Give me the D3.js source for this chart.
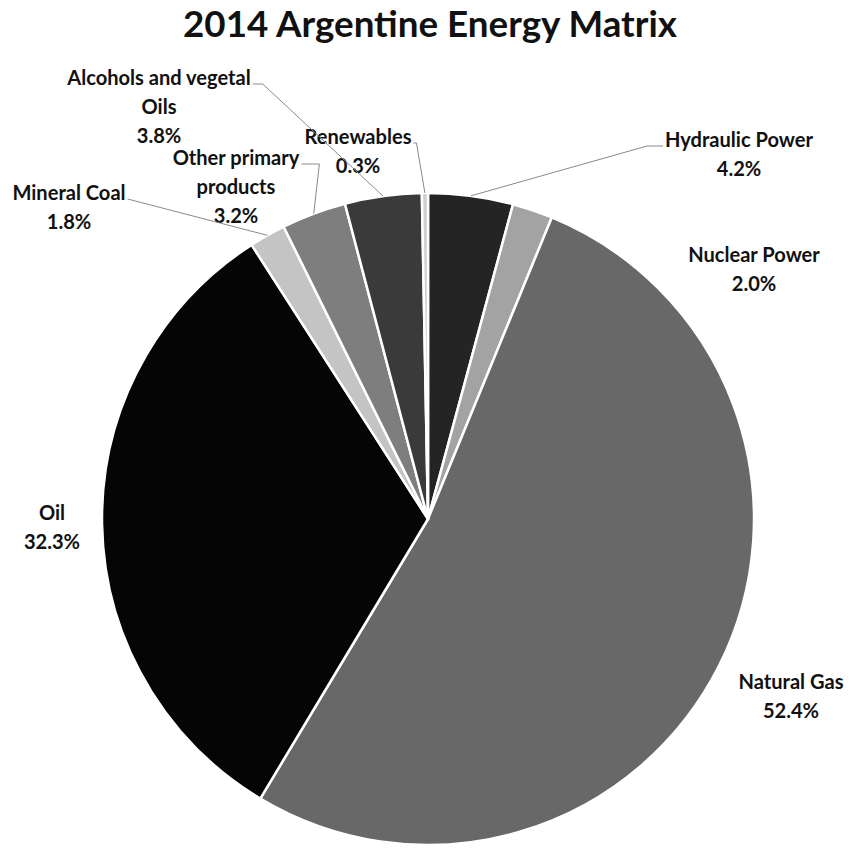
<!DOCTYPE html>
<html>
<head>
<meta charset="utf-8">
<script src="https://cdn.jsdelivr.net/npm/d3@7/dist/d3.min.js"></script>
<style>
  html, body { margin: 0; padding: 0; background: #fff; }
  svg { display: block; }
  text { font-family: Lato, "Open Sans", sans-serif; fill: #111; }
</style>
</head>
<body>
<svg id="chart" width="849" height="851"></svg>
<script>
// Primary energy supply shares, Argentina 2014 (percent), clockwise from 12 o'clock
const categories = [
  "Hydraulic Power",
  "Nuclear Power",
  "Natural Gas",
  "Oil",
  "Mineral Coal",
  "Other primary products",
  "Alcohols and vegetal Oils",
  "Renewables"
];
const shares = [4.2, 2.0, 52.4, 32.3, 1.8, 3.2, 3.8, 0.3];
const titleText = "2014 Argentine Energy Matrix";

// Greyscale fills, one per slice
const palette = ["#242424", "#a3a3a3", "#686868", "#050505", "#c4c4c4", "#7e7e7e", "#3a3a3a", "#cfcfcf"];

// Label placement: centre x, first-line y, wrap width, leader line attachment
const labelLayout = [
  { x: 739, y: 140, wrap: 180, leader: { side: "start", elbow: 16 } },
  { x: 754, y: 255, wrap: 180 },
  { x: 791, y: 682, wrap: 180 },
  { x: 52,  y: 513, wrap: 180 },
  { x: 69,  y: 193, wrap: 180, leader: { side: "end", elbow: 0 } },
  { x: 236, y: 158, wrap: 150, leader: { side: "end", elbow: 18 } },
  { x: 159, y: 78,  wrap: 215, leader: { side: "end", elbow: 10 } },
  { x: 358, y: 137, wrap: 180, leader: { side: "end", elbow: 3 } }
];

const W = 849, H = 851;
const cx = 428, cy = 519, R = 326;
const lineH = 29;

const svg = d3.select("#chart");

// Title, sized to its span across the top
const title = svg.append("text")
  .attr("x", 430).attr("y", 37)
  .attr("text-anchor", "middle")
  .style("font-weight", 700)
  .style("font-size", "32px")
  .text(titleText);
const tw = title.node().getComputedTextLength();
title.style("font-size", (32 * 494 / tw).toFixed(2) + "px");

// Pie
const pie = d3.pie().sort(null).value(d => d);
const arcs = pie(shares);
const arc = d3.arc().innerRadius(0).outerRadius(R);

const g = svg.append("g").attr("transform", `translate(${cx},${cy})`);
g.selectAll("path.slice")
  .data(arcs)
  .join("path")
  .attr("class", "slice")
  .attr("d", arc)
  .attr("fill", (d, i) => palette[i])
  .attr("stroke", "#fff")
  .attr("stroke-width", 2.5)
  .attr("stroke-linejoin", "round");

// Labels, sized so "Hydraulic Power" spans about 148px
const fmt = d3.format(".1f");
const labels = svg.append("g").style("font-weight", 700);
const probe = labels.append("text").attr("visibility", "hidden").style("font-size", "15px").text(categories[0]);
const labelSize = 15 * 148 / probe.node().getComputedTextLength();
labels.style("font-size", labelSize.toFixed(2) + "px");
probe.style("font-size", null);

// word wrap against a measured width
function wrap(str, maxW) {
  const words = str.split(" ");
  const out = [];
  let cur = "";
  words.forEach(w => {
    const t = cur ? cur + " " + w : w;
    probe.text(t);
    if (cur && probe.node().getComputedTextLength() > maxW) { out.push(cur); cur = w; }
    else cur = t;
  });
  if (cur) out.push(cur);
  return out;
}

const edgePoint = d => {
  const a = (d.startAngle + d.endAngle) / 2;
  return [cx + R * Math.sin(a), cy - R * Math.cos(a)];
};

arcs.forEach((d, i) => {
  const L = labelLayout[i];
  const lines = wrap(categories[i], L.wrap).concat([fmt(shares[i]) + "%"]);
  const t = labels.append("text")
    .attr("text-anchor", "middle");
  lines.forEach((s, k) => {
    t.append("tspan")
      .attr("x", L.x)
      .attr("y", L.y + k * lineH)
      .attr("dy", "0.36em")
      .text(s);
  });
  if (L.leader) {
    const first = t.select("tspan").node();
    const len = first.getComputedTextLength();
    const y0 = L.y + 6;
    const x0 = L.leader.side === "end" ? L.x + len / 2 + 2 : L.x - len / 2 - 2;
    const x1 = L.leader.side === "end" ? x0 + L.leader.elbow : x0 - L.leader.elbow;
    const [ex, ey] = edgePoint(d);
    svg.append("path")
      .attr("d", d3.line()([[x0, y0], [x1, y0], [ex, ey]]))
      .attr("fill", "none")
      .attr("stroke", "#8a8a8a")
      .attr("stroke-width", 1);
  }
});
probe.remove();
</script>
</body>
</html>
